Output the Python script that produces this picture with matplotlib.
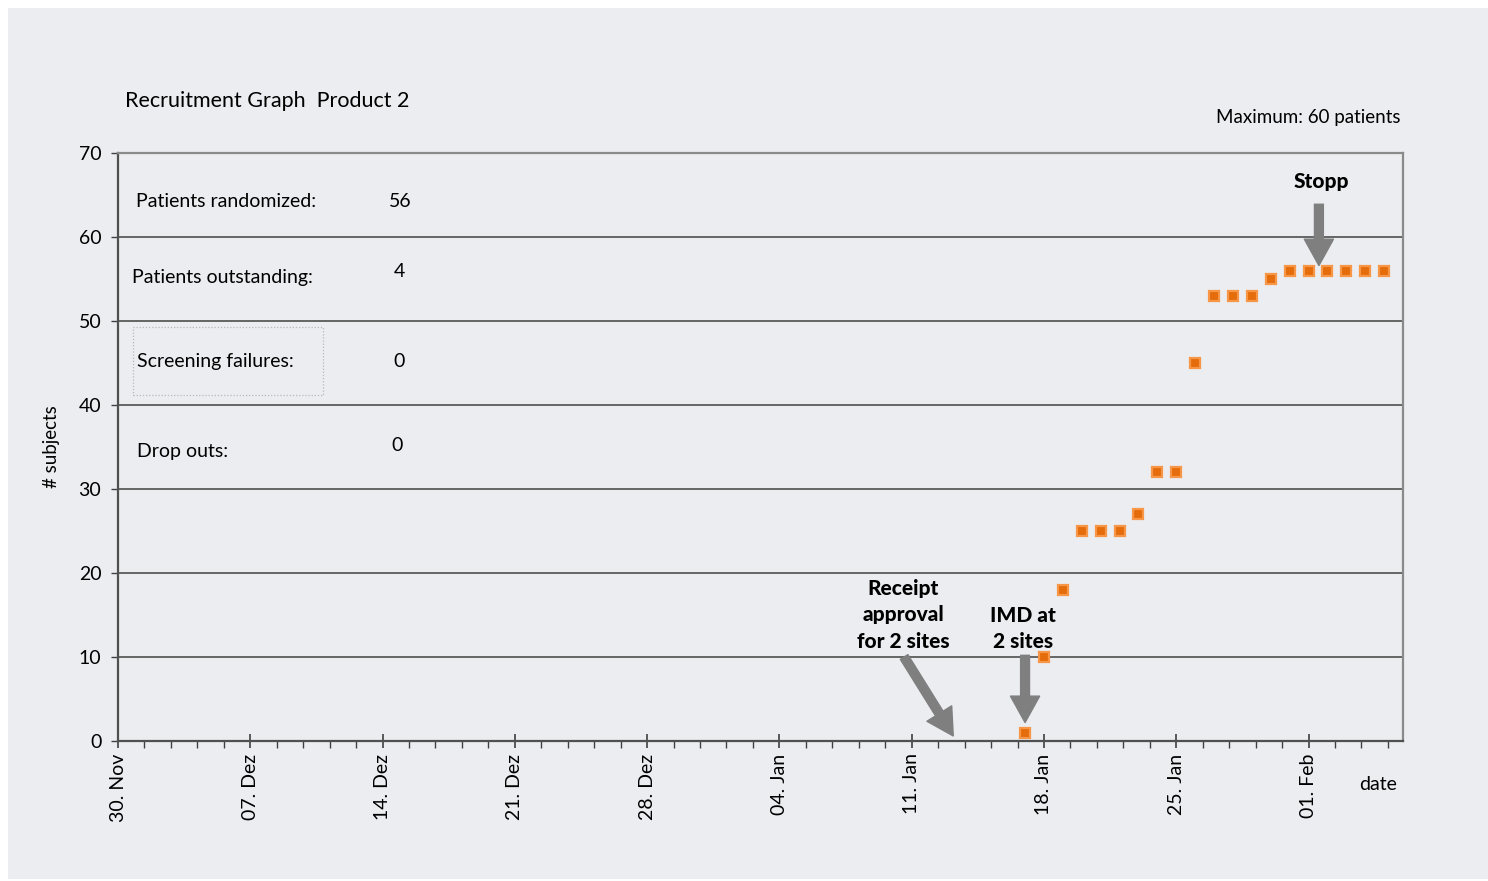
import numpy as np
import pandas as pd
import matplotlib
matplotlib.use("Agg")
import matplotlib.pyplot as plt
from matplotlib.patches import Rectangle
from matplotlib.ticker import MultipleLocator

FN = "Lato"
BG = "#ECEDF1"
plt.rc("font", family=[FN, "DejaVu Sans"], size=14)

# recruitment data
dates = [
    "2019-01-17", "2019-01-18", "2019-01-19", "2019-01-20", "2019-01-21",
    "2019-01-22", "2019-01-23", "2019-01-24", "2019-01-25", "2019-01-26",
    "2019-01-27", "2019-01-28", "2019-01-29", "2019-01-30", "2019-01-31",
    "2019-02-01", "2019-02-02", "2019-02-03", "2019-02-04", "2019-02-05",
]
subjects = [1, 10, 18, 25, 25, 25, 27, 32, 32, 45,
            53, 53, 53, 55, 56, 56, 56, 56, 56, 56]

tick_labels = ["30. Nov", "07. Dez", "14. Dez", "21. Dez", "28. Dez",
               "04. Jan", "11. Jan", "18. Jan", "25. Jan", "01. Feb"]

summary_labels = ["Patients randomized:", "Patients outstanding:",
                  "Screening failures:", "Drop outs:"]
summary_values = ["56", "4", "0", "0"]

start = pd.Timestamp("2018-11-30")
end = pd.Timestamp("2019-02-06")
days = (pd.to_datetime(dates) - start).days.values
x_end = (end - start).days


def day(s):
    return (pd.Timestamp(s) - start).days


fig = plt.figure(figsize=(14.88, 8.81), dpi=100)
fig.patch.set_facecolor("white")
fig.patches.append(Rectangle((8 / 1488, 0.002), 1 - 8 / 1488, 1 - 8 / 881 - 0.002,
                             transform=fig.transFigure, fc=BG, ec="none", zorder=-10))

ax = fig.add_axes([118 / 1488, 140 / 881, 1285 / 1488, 588 / 881])
ax.set_facecolor("none")

ax.plot(days, subjects, "s", ms=7.5, mfc="#E46C0A", mec="#F79646", mew=1.6,
        zorder=5, clip_on=False)

ax.set_xlim(0, x_end)
ax.set_ylim(0, 70)
ax.yaxis.set_major_locator(MultipleLocator(10))
ax.grid(axis="y", color="#404040", lw=1.1)
ax.set_axisbelow(True)

ax.set_xticks(np.arange(0, 7 * len(tick_labels), 7))
ax.set_xticklabels(tick_labels, rotation=90, va="top", ha="center")
ax.xaxis.set_minor_locator(MultipleLocator(1.4))
ax.tick_params(axis="x", which="major", direction="inout", length=10, width=1.2,
               color="#404040", pad=4, labelsize=14)
ax.tick_params(axis="x", which="minor", direction="out", length=5, width=1.0,
               color="#404040")
ax.tick_params(axis="y", direction="out", length=5, width=1.0, color="#404040",
               pad=7, labelsize=14)

for side in ["left", "bottom"]:
    ax.spines[side].set_color("#505050")
    ax.spines[side].set_linewidth(1.6)
for side in ["top", "right"]:
    ax.spines[side].set_color("#8A8A8A")
    ax.spines[side].set_linewidth(1.6)

ax.set_ylabel("# subjects", fontsize=13.5)
ax.yaxis.set_label_coords(-0.045, 0.5)
ax.text(1378 / 1488, 97 / 881, "date", transform=fig.transFigure, ha="center",
        va="center", fontsize=14)
fig.text(125 / 1488, 1 - 101 / 881, "Recruitment Graph  Product 2",
         ha="left", va="center", fontsize=15.5)
fig.text(1400 / 1488, 1 - 117 / 881, "Maximum: 60 patients", ha="right",
         va="center", fontsize=13.5)

# summary box in the upper left corner
label_pos = [(0.014, 0.918), (0.011, 0.789), (0.015, 0.645), (0.015, 0.493)]
value_pos = [(0.220, 0.917), (0.219, 0.799), (0.219, 0.645), (0.217, 0.502)]
for lab, val, lp, vp in zip(summary_labels, summary_values, label_pos, value_pos):
    ax.text(lp[0], lp[1], lab, transform=ax.transAxes, ha="left", va="center",
            fontsize=14)
    ax.text(vp[0], vp[1], val, transform=ax.transAxes, ha="center", va="center",
            fontsize=14)
ax.add_patch(Rectangle((0.0117, 0.588), 0.1478, 0.116, transform=ax.transAxes,
                       fill=False, ec="#B8B8B8", lw=0.9, ls=(0, (1, 1.5))))

# annotations with arrows
arrow = dict(arrowstyle="simple,head_width=1.05,head_length=0.95,tail_width=0.32",
             fc="#7F7F7F", ec="#7F7F7F", shrinkA=0, shrinkB=0, mutation_scale=20)
ax.annotate("", xy=(day("2019-02-01") + 0.55, 56.6),
            xytext=(day("2019-02-01") + 0.55, 63.9), arrowprops=arrow)
ax.annotate("", xy=(day("2019-01-17"), 2.2), xytext=(day("2019-01-17"), 10.2),
            arrowprops=arrow)
ax.annotate("", xy=(44.2, 0.6), xytext=(41.6, 10.0), arrowprops=arrow)

bold = dict(ha="center", va="center", fontsize=15, fontweight="black",
            linespacing=1.45)
ax.text(63.7, 66.6, "Stopp", **bold)
ax.text(41.57, 15.0, "Receipt\napproval\nfor 2 sites", **bold)
ax.text(47.9, 13.4, "IMD at\n2 sites", **bold)

fig.savefig("out.png", dpi=100, facecolor=fig.get_facecolor())
